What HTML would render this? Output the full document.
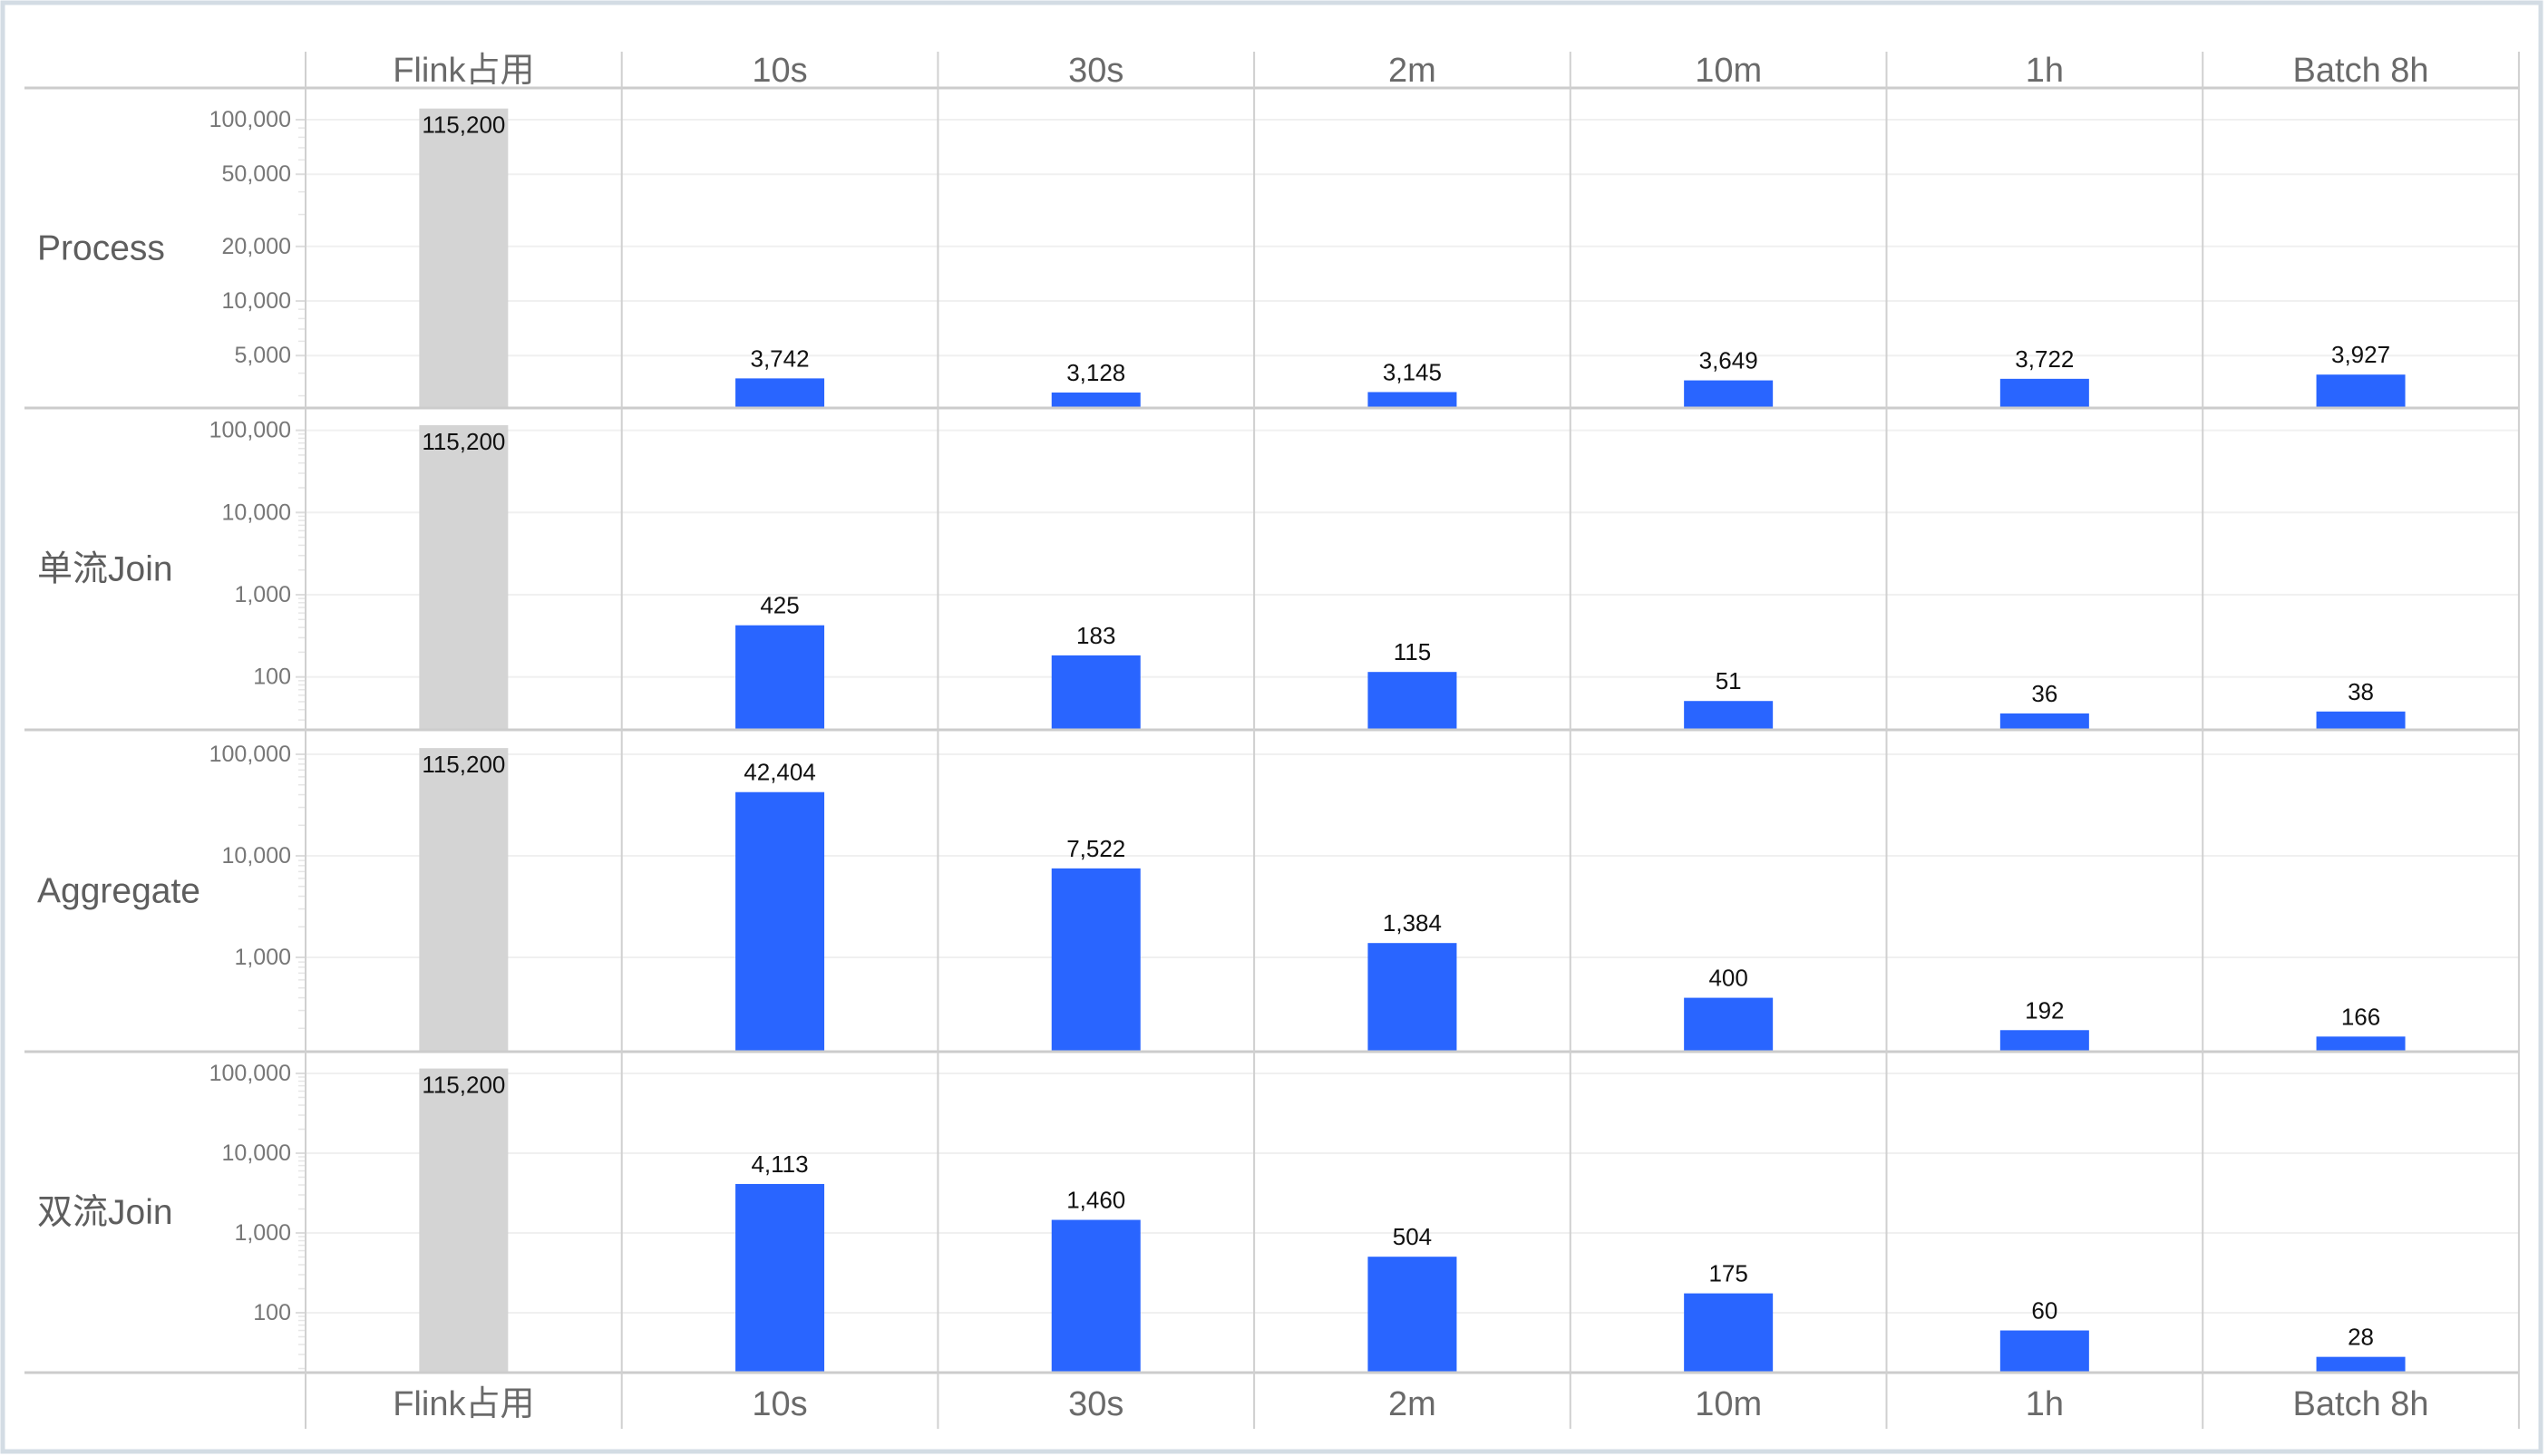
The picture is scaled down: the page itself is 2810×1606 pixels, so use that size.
<!DOCTYPE html>
<html><head><meta charset="utf-8"><style>
html,body{margin:0;padding:0;background:#fff;}
svg{display:block;}
text{font-family:"Liberation Sans","Noto Sans CJK SC",sans-serif;}
</style></head><body>
<svg id="chart" width="2810" height="1606" xmlns="http://www.w3.org/2000/svg"></svg>
<script>
const categories = ["Flink占用","10s","30s","2m","10m","1h","Batch 8h"];
const rowNames = ["Process","单流Join","Aggregate","双流Join"];
const processValues = [115200,3742,3128,3145,3649,3722,3927];
const singleJoinValues = [115200,425,183,115,51,36,38];
const aggregateValues = [115200,42404,7522,1384,400,192,166];
const dualJoinValues = [115200,4113,1460,504,175,60,28];
const processTicks = [100000,50000,20000,10000,5000];
const singleJoinTicks = [100000,10000,1000,100];
const aggregateTicks = [100000,10000,1000];
const dualJoinTicks = [100000,10000,1000,100];

const NS="http://www.w3.org/2000/svg";
const svg=document.getElementById('chart');
function mk(tag,attrs,parent){const e=document.createElementNS(NS,tag);for(const k in attrs)e.setAttribute(k,attrs[k]);(parent||svg).appendChild(e);return e;}
function fmt(v){return v.toLocaleString('en-US');}

const colX0=337, colW=348.7, nCols=categories.length;
const gridRight=colX0+colW*nCols;
const rowBounds=[[97,450],[450,805],[805,1160],[1160,1514]];
const rowScales=[
  {refVal:10000,refY:332,dec:200},
  {refVal:1000,refY:656,dec:90.7},
  {refVal:1000,refY:1056,dec:112},
  {refVal:1000,refY:1360,dec:88}
];
const rowValues=[processValues,singleJoinValues,aggregateValues,dualJoinValues];
const rowTicks=[processTicks,singleJoinTicks,aggregateTicks,dualJoinTicks];
function yScale(r,v){const s=rowScales[r];return s.refY - s.dec*Math.log10(v/s.refVal);}
function xCenter(i){return colX0+colW*i+colW/2;}

const frame=mk('rect',{x:3,y:3,width:2799,height:1598,fill:'none',stroke:'#d3dce4','stroke-width':5});



rowBounds.forEach((b,r)=>{
  const g=mk('g',{});
  
  
  for(let e=0;e<7;e++){for(let m=1;m<10;m++){const v=m*Math.pow(10,e);const y=yScale(r,v);
    if(y>b[0]+3&&y<b[1]-2){mk('line',{x1:329,x2:336,y1:y,y2:y,stroke:'#e6e6e6','stroke-width':1.5},g);}}}
  rowTicks[r].forEach(t=>{
    const y=yScale(r,t);
    const gl=mk('line',{x1:337,x2:gridRight,y1:y,y2:y,stroke:'#f0f0f0','stroke-width':2},g);
    
    
    mk('line',{x1:326,x2:336,y1:y,y2:y,stroke:'#dddddd','stroke-width':2},g);
    const tl=mk('text',{x:321,y:y+8,'text-anchor':'end','font-size':25,fill:'#777'},g);
    tl.textContent=fmt(t);
    
    
  });
  const rl=mk('text',{x:41,y:(b[0]+b[1])/2+13,'font-size':39,fill:'#5e5e5e'},g);
  rl.textContent=rowNames[r];
  
  
});

rowValues.forEach((vals,r)=>{
  const base=rowBounds[r][1]-1;
  vals.forEach((v,i)=>{
    const y=yScale(r,v), cx=xCenter(i), w=98;
    const bar=mk('rect',{x:cx-w/2,y:y,width:w,height:base-y,fill:i===0?'#d4d4d4':'#2965ff'});
    
    
    const lbl=mk('text',{x:cx,y:i===0?y+27:y-13,'text-anchor':'middle','font-size':26,fill:'#111'});
    lbl.textContent=fmt(v);
    
    
  });
});

[97,450,805,1160,1514].forEach(y=>{
  const l=mk('line',{x1:27,x2:gridRight,y1:y,y2:y,stroke:'#cccccc','stroke-width':3});
  
  
});
for(let i=0;i<=nCols;i++){
  const x=colX0+colW*i;
  const l=mk('line',{x1:x,x2:x,y1:57,y2:1576,stroke:'#d0d0d0','stroke-width':2});
  
  
}
categories.forEach((c,i)=>{
  const h=mk('text',{x:xCenter(i),y:90,'text-anchor':'middle','font-size':38,fill:'#6a6a6a'});
  h.textContent=c;
  
  
  const f=mk('text',{x:xCenter(i),y:1561,'text-anchor':'middle','font-size':38,fill:'#6a6a6a'});
  f.textContent=c;
  
  
});
</script>
</body></html>
